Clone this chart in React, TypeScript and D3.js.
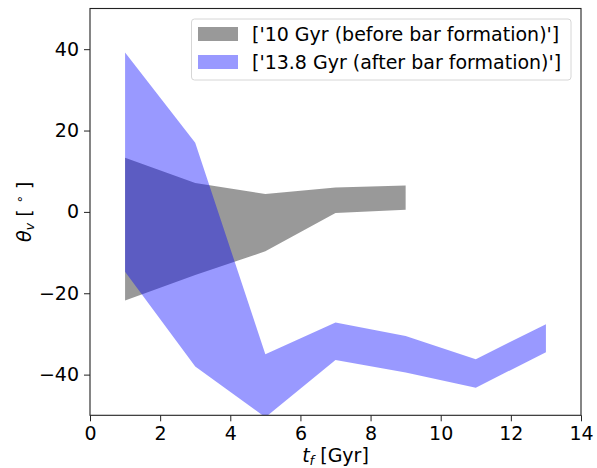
import { useEffect, useRef } from "react"
import * as d3 from "d3"

// formation times [Gyr]
const tBefore = [1, 3, 5, 7, 9]
const beforeLow = [-21.8, -15.5, -9.7, -0.3, 0.5]
const beforeHigh = [13.3, 7.1, 4.4, 6.0, 6.5]

const tAfter = [1, 3, 5, 7, 9, 11, 13]
const afterLow = [-14.7, -38.0, -50.5, -36.4, -39.5, -43.2, -34.5]
const afterHigh = [39.2, 17.0, -35.0, -27.2, -30.5, -36.2, -27.6]

const xTicks = [0, 2, 4, 6, 8, 10, 12, 14]
const yTicks = [-40, -20, 0, 20, 40]
const legendLabels = ["['10 Gyr (before bar formation)']", "['13.8 Gyr (after bar formation)']"]

interface BandPoint {
  t: number
  lo: number
  hi: number
}

const App = () => {
  const svgRef = useRef<SVGSVGElement | null>(null)

  useEffect(() => {
    if (!svgRef.current) return
    const svg = d3.select(svgRef.current)
    svg.selectAll("*").remove()

    const width = 597
    const height = 468
    const margin = { top: 8.5, right: 16, bottom: 52.7, left: 90 }
    const innerWidth = width - margin.left - margin.right
    const innerHeight = height - margin.top - margin.bottom
    const font = "'DejaVu Sans', sans-serif"
    const fs = 19

    const x = d3.scaleLinear().domain([0, 14]).range([0, innerWidth])
    const y = d3.scaleLinear().domain([-50, 50]).range([innerHeight, 0])

    const g = svg.append("g").attr("transform", `translate(${margin.left},${margin.top})`)

    g.append("clipPath")
      .attr("id", "plot-clip")
      .append("rect")
      .attr("width", innerWidth)
      .attr("height", innerHeight)

    const area = d3
      .area<BandPoint>()
      .x((d) => x(d.t))
      .y0((d) => y(d.lo))
      .y1((d) => y(d.hi))

    const before: BandPoint[] = tBefore.map((t, i) => ({ t, lo: beforeLow[i], hi: beforeHigh[i] }))
    const after: BandPoint[] = tAfter.map((t, i) => ({ t, lo: afterLow[i], hi: afterHigh[i] }))

    const plot = g.append("g").attr("clip-path", "url(#plot-clip)")
    plot.append("path").datum(before).attr("d", area).attr("fill", "gray").attr("fill-opacity", 0.8)
    plot.append("path").datum(after).attr("d", area).attr("fill", "blue").attr("fill-opacity", 0.4)

    // axes
    const xAxis = g
      .append("g")
      .attr("transform", `translate(0,${innerHeight})`)
      .call(d3.axisBottom(x).tickValues(xTicks).tickSize(6).tickPadding(5).tickFormat(d3.format("d")))
    const yAxis = g
      .append("g")
      .call(
        d3
          .axisLeft(y)
          .tickValues(yTicks)
          .tickSize(6)
          .tickPadding(5)
          .tickFormat((d) => d3.format("d")(d as number).replace("-", "\u2212")),
      )
    for (const ax of [xAxis, yAxis]) {
      ax.select(".domain").remove()
      ax.selectAll("line").attr("stroke", "#222").attr("stroke-width", 1)
      ax.selectAll("text").attr("font-family", font).attr("font-size", fs).attr("fill", "#000")
    }

    g.append("rect")
      .attr("width", innerWidth)
      .attr("height", innerHeight)
      .attr("fill", "none")
      .attr("stroke", "#222")
      .attr("stroke-width", 1.1)

    // x label
    const xl = svg
      .append("text")
      .attr("x", margin.left + innerWidth / 2)
      .attr("y", 462)
      .attr("text-anchor", "middle")
      .attr("font-family", font)
      .attr("font-size", fs)
    xl.append("tspan").attr("font-style", "italic").text("t")
    xl.append("tspan").attr("font-style", "italic").attr("font-size", 13).attr("dy", 3).text("f")
    xl.append("tspan").attr("dy", -3).text(" [Gyr]")

    // y label
    const yl = svg
      .append("text")
      .attr("transform", `translate(31,${margin.top + innerHeight / 2}) rotate(-90)`)
      .attr("text-anchor", "middle")
      .attr("font-family", font)
      .attr("font-size", fs)
    yl.append("tspan").attr("font-style", "italic").text("\u03b8")
    yl.append("tspan").attr("font-style", "italic").attr("font-size", 13).attr("dy", 3).text("v")
    yl.append("tspan").attr("dy", -3).text(" [ ")
    yl.append("tspan").attr("font-size", 13).attr("dy", -7).text("\u2218")
    yl.append("tspan").attr("dy", 7).text(" ]")

    // legend
    const lg = svg.append("g")
    lg.append("rect")
      .attr("x", 191.5)
      .attr("y", 19)
      .attr("width", 379.5)
      .attr("height", 61)
      .attr("rx", 3)
      .attr("fill", "#fff")
      .attr("fill-opacity", 0.8)
      .attr("stroke", "#d6d6d6")
      .attr("stroke-width", 1)
    const legendColors = [
      { fill: "gray", op: 0.8 },
      { fill: "blue", op: 0.4 },
    ]
    legendLabels.forEach((label, i) => {
      const cy = 34 + i * 28
      lg.append("rect")
        .attr("x", 198)
        .attr("y", cy - 7)
        .attr("width", 40)
        .attr("height", 14)
        .attr("fill", legendColors[i].fill)
        .attr("fill-opacity", legendColors[i].op)
      lg.append("text")
        .attr("x", 252)
        .attr("y", cy + 7)
        .attr("font-family", font)
        .attr("font-size", fs)
        .text(label)
    })
  }, [])

  return (
    <div style={{ width: 597, height: 468 }}>
      <svg ref={svgRef} width={597} height={468} style={{ position: "absolute", left: 0, top: 0, background: "#fff" }} />
    </div>
  )
}

export default App
